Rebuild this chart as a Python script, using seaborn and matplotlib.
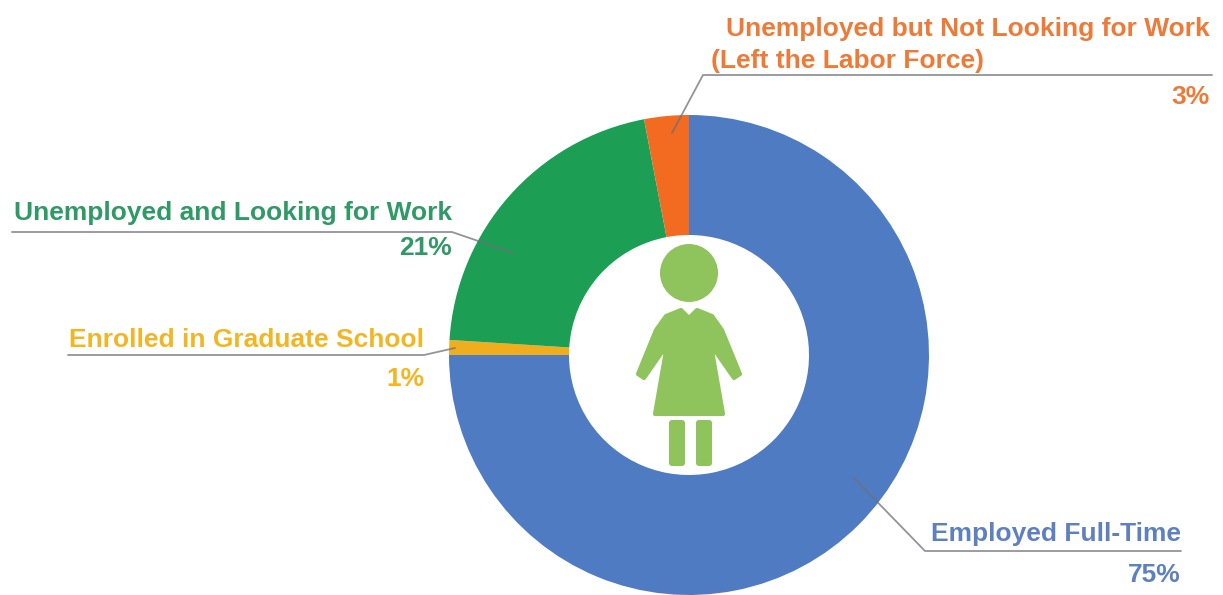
import matplotlib
matplotlib.use("Agg")
import matplotlib.pyplot as plt
from matplotlib.patches import Circle, FancyBboxPatch, Polygon
import seaborn as sns

# Shares of graduates by outcome, clockwise from twelve o'clock
categories = ["Employed Full-Time", "Enrolled in Graduate School",
              "Unemployed and Looking for Work",
              "Unemployed but Not Looking for Work\n(Left the Labor Force)"]
values = [75, 1, 21, 3]
wedge_colors = ["#4F7BC3", "#F0AE1E", "#1C9E55", "#F26B21"]
text_colors = ["#5F80BE", "#F2B624", "#2F9A66", "#EE7A38"]
icon_color = "#8FC45C"
W, H = 1223, 595

sns.set_theme(style="white")
plt.rcParams["font.family"] = ["Liberation Sans", "DejaVu Sans"]

fig = plt.figure(figsize=(W / 100, H / 100), dpi=100)
ax = fig.add_axes([0, 0, 1, 1])

def fy(y):
    """Convert a top-down pixel row to the axes' bottom-up coordinate."""
    return H - y

ax.pie(values, colors=sns.color_palette(wedge_colors), startangle=90,
       counterclock=False, center=(689, fy(355)), radius=240,
       wedgeprops=dict(width=120, linewidth=0), frame=True)
ax.set_xlim(0, W)
ax.set_ylim(0, H)
ax.set_aspect("equal")
ax.set_axis_off()

# Leader lines: from inside each wedge to an underline beneath its label
leaders = [
    [(853, 477), (925, 551), (1181, 551)],
    [(455, 348), (424, 355), (68, 355)],
    [(513, 253), (452, 232), (12, 232)],
    [(672, 133), (703, 75), (1212, 75)],
]
for pts in leaders:
    ax.plot([p[0] for p in pts], [fy(p[1]) for p in pts], color="#6F6F78",
            lw=1.3, alpha=0.75, solid_joinstyle="round", zorder=3)

# Label text and the percentage beneath each underline
fs = 19
label_style = dict(fontsize=fs, fontweight="bold", zorder=4)
ax.text(1181, fy(534.5), categories[0], color=text_colors[0], ha="right", va="center", **label_style)
ax.text(1181, fy(575), f"{values[0]}%", color=text_colors[0], ha="right", va="center", **label_style)
ax.text(424, fy(340), categories[1], color=text_colors[1], ha="right", va="center", **label_style)
ax.text(424, fy(379), f"{values[1]}%", color=text_colors[1], ha="right", va="center", **label_style)
ax.text(452, fy(213), categories[2], color=text_colors[2], ha="right", va="center", **label_style)
ax.text(452, fy(248), f"{values[2]}%", color=text_colors[2], ha="right", va="center", **label_style)
line1, line2 = categories[3].split("\n")
ax.text(1210, fy(29), line1, color=text_colors[3], ha="right", va="center", **label_style)
ax.text(711, fy(61), line2, color=text_colors[3], ha="left", va="center", **label_style)
ax.text(1210, fy(97), f"{values[3]}%", color=text_colors[3], ha="right", va="center", **label_style)

# Figure icon in the centre of the ring
ax.add_patch(Circle((689, fy(273)), 29, fc=icon_color, ec="none", zorder=5))
body = [(681, 310), (689, 318), (697, 310), (712, 316), (722, 330), (740, 374),
        (734, 378), (711, 345), (723, 414), (655, 414), (667, 345), (644, 378),
        (638, 374), (656, 330), (666, 316)]
ax.add_patch(Polygon([(x, fy(y)) for x, y in body], closed=True, fc=icon_color,
                     ec=icon_color, lw=3, joinstyle="round", zorder=5))
for left in (669, 696):
    ax.add_patch(FancyBboxPatch((left + 2, fy(464)), 12, 42,
                                boxstyle="round,pad=2,rounding_size=3",
                                fc=icon_color, ec="none", zorder=5))

fig.savefig("out.png", dpi=100, facecolor="white")
